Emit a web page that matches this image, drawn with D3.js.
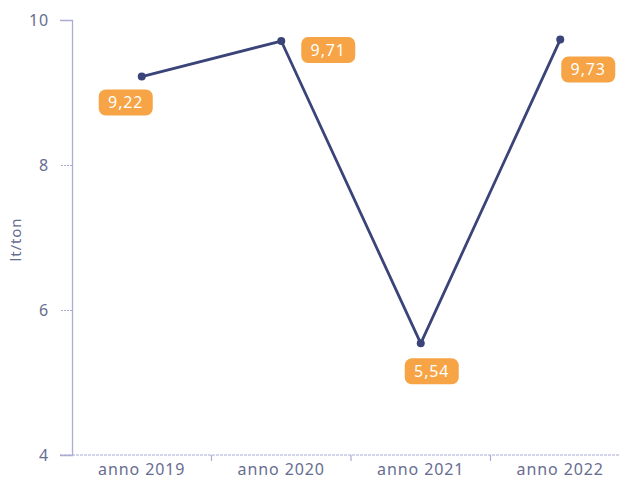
<!DOCTYPE html>
<html>
<head>
<meta charset="utf-8">
<script src="https://cdn.jsdelivr.net/npm/d3@7"></script>
<style>
  body { margin: 0; background: #fff; }
  text { font-family: "Noto Sans", sans-serif; letter-spacing: 0.9px; }
</style>
</head>
<body>
<div id="host"><svg></svg></div>
<script>
const WIDTH = 622;
const HEIGHT = 482;

const YEARS = ["anno 2019", "anno 2020", "anno 2021", "anno 2022"];
const VALUES = [9.22, 9.71, 5.54, 9.73];
const Y_TICKS = [4, 6, 8, 10];
const Y_LABEL = "lt/ton";

// where each value badge sits relative to its point
const LABEL_OFFSETS = [[-16, 26], [47, 9], [11, 28], [28, 30]];

const NAVY = "#3a4478";
const ORANGE = "#f6a445";
const AXIS = "#a9acd4";
const TEXT = "#676d90";

const margin = { top: 20, right: -8, bottom: 27, left: 72 };

const svg = d3.select("#host svg").attr("width", WIDTH).attr("height", HEIGHT);

const x = d3
  .scaleBand()
  .domain(YEARS)
  .range([margin.left, WIDTH - margin.right]);

const y = d3
  .scaleLinear()
  .domain([4, 10])
  .range([HEIGHT - margin.bottom, margin.top]);

// y axis
const yAxis = svg
  .append("g")
  .attr("transform", `translate(${margin.left},0)`)
  .call(d3.axisLeft(y).tickValues(Y_TICKS).tickSize(12).tickPadding(11).tickFormat(d3.format("d")));
yAxis.select(".domain").attr("stroke", AXIS).attr("stroke-width", 1.3);
yAxis.selectAll(".tick line").attr("stroke", AXIS).attr("stroke-dasharray", "2,1");
yAxis.selectAll(".tick text").attr("fill", TEXT).attr("font-size", 16).attr("font-family", "Noto Sans");

// x axis
const xAxis = svg
  .append("g")
  .attr("transform", `translate(0,${HEIGHT - margin.bottom})`)
  .call(d3.axisBottom(x).tickSize(0).tickPadding(9));
xAxis.select(".domain").remove();
xAxis.selectAll(".tick text").attr("fill", TEXT).attr("font-size", 16).attr("font-family", "Noto Sans");

svg
  .append("line")
  .attr("x1", margin.left - 12)
  .attr("x2", WIDTH - 2)
  .attr("y1", y(4))
  .attr("y2", y(4))
  .attr("stroke", AXIS)
  .attr("stroke-width", 1.2)
  .attr("stroke-dasharray", "3,1");

// separators between categories
svg
  .append("g")
  .selectAll("line")
  .data(YEARS.slice(1))
  .join("line")
  .attr("x1", (d) => x(d))
  .attr("x2", (d) => x(d))
  .attr("y1", y(4))
  .attr("y2", y(4) + 6)
  .attr("stroke", AXIS)
  .attr("stroke-width", 1.2);

svg
  .append("text")
  .attr("transform", `translate(21,${(y(4) + y(10)) / 2 + 2}) rotate(-90)`)
  .attr("text-anchor", "middle")
  .attr("fill", TEXT)
  .attr("font-size", 15)
  .text(Y_LABEL);

const points = YEARS.map((d, i) => ({ year: d, value: VALUES[i], off: LABEL_OFFSETS[i] }));
const cx = (d) => x(d.year) + x.bandwidth() / 2;

svg
  .append("path")
  .datum(points)
  .attr("fill", "none")
  .attr("stroke", NAVY)
  .attr("stroke-width", 2.8)
  .attr("stroke-linejoin", "round")
  .attr("d", d3.line().x(cx).y((d) => y(d.value)));

svg
  .append("g")
  .selectAll("circle")
  .data(points)
  .join("circle")
  .attr("cx", cx)
  .attr("cy", (d) => y(d.value))
  .attr("r", 4)
  .attr("fill", NAVY);

const badges = svg
  .append("g")
  .selectAll("g")
  .data(points)
  .join("g")
  .attr("transform", (d) => `translate(${cx(d) + d.off[0]},${y(d.value) + d.off[1]})`);

badges
  .append("rect")
  .attr("x", -27)
  .attr("y", -13)
  .attr("width", 54)
  .attr("height", 26)
  .attr("rx", 7)
  .attr("fill", ORANGE);

badges
  .append("text")
  .attr("text-anchor", "middle")
  .attr("dy", "0.36em")
  .attr("fill", "#fff")
  .attr("font-size", 16)
  .text((d) => d3.format(".2f")(d.value).replace(".", ","));
</script>
</body>
</html>
